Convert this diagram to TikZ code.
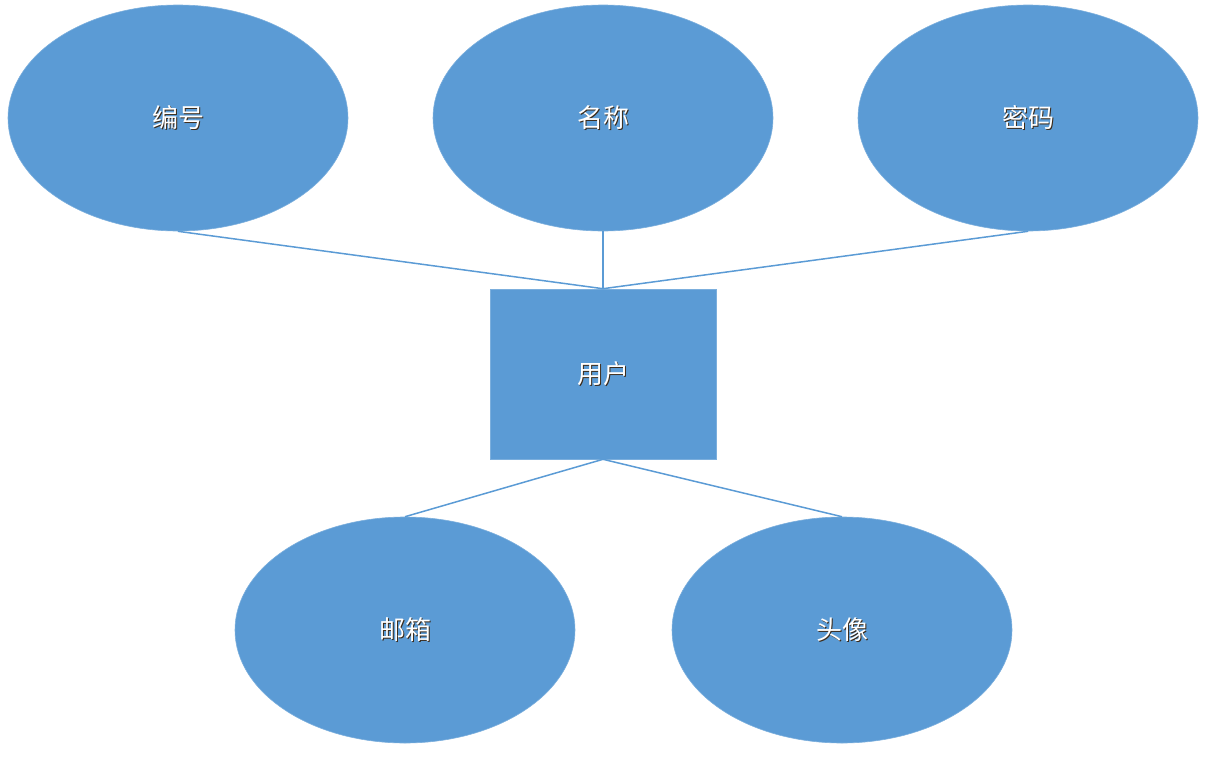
\documentclass[tikz,border=0pt]{standalone}
\usepackage{fontspec}
\newfontfamily\cjk{Noto Sans CJK SC}
\usetikzlibrary{shapes.geometric}
\definecolor{erblue}{HTML}{5B9BD5}
\definecolor{shadowc}{HTML}{3A2A1A}
\newcommand{\shtxt}[1]{\makebox[0pt][l]{\hspace{1.2pt}\raisebox{-1.2pt}{\color{shadowc}#1}}#1}
\tikzset{
  attr/.style={ellipse, fill=erblue, draw=erblue!80!white, line width=0.6pt, minimum width=340pt, minimum height=226pt, inner sep=0pt, text=white, font=\cjk\fontsize{26}{30}\selectfont},
  entity/.style={rectangle, fill=erblue, draw=erblue!80!white, line width=0.6pt, minimum width=226pt, minimum height=170pt, inner sep=0pt, text=white, font=\cjk\fontsize{26}{30}\selectfont},
  link/.style={draw=erblue, line width=1.5pt}
}
\begin{document}
\begin{tikzpicture}[x=1pt,y=1pt]
\useasboundingbox (0,0) rectangle (1208,-756);
\node[attr] (id) at (178,-118) {\shtxt{编号}};
\node[attr] (name) at (603,-118) {\shtxt{名称}};
\node[attr] (pwd) at (1028,-118) {\shtxt{密码}};
\node[entity] (user) at (603,-374) {\shtxt{用户}};
\node[attr] (mail) at (405,-630) {\shtxt{邮箱}};
\node[attr] (avatar) at (842,-630) {\shtxt{头像}};
\draw[link] (id.south) -- (user.north);
\draw[link] (name.south) -- (user.north);
\draw[link] (pwd.south) -- (user.north);
\draw[link] (user.south) -- (mail.north);
\draw[link] (user.south) -- (avatar.north);
\end{tikzpicture}
\end{document}
